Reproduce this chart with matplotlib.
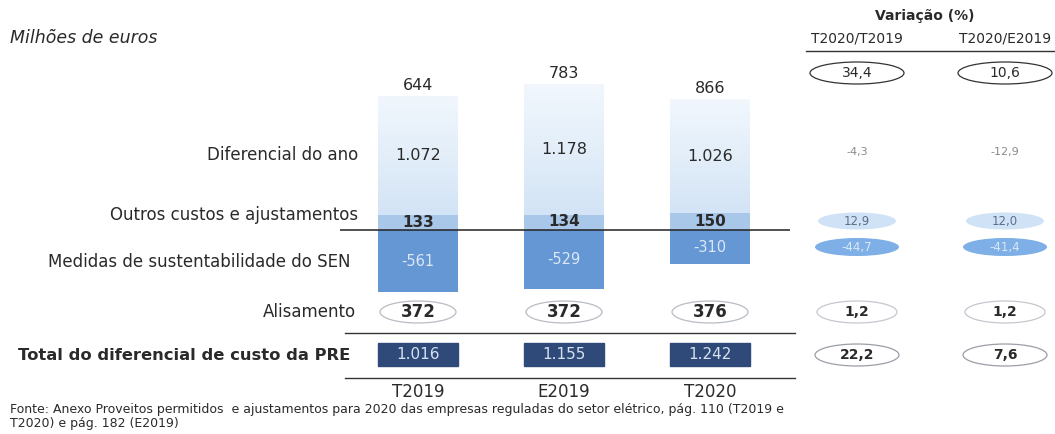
import numpy as np
import matplotlib.pyplot as plt
from matplotlib.patches import Ellipse, Rectangle
from matplotlib.colors import LinearSegmentedColormap
from matplotlib.transforms import blended_transform_factory

# ==============================
# Data (milhões de euros)
# ==============================

periodos = ["T2019", "E2019", "T2020"]
diferencial_ano = [1072, 1178, 1026]
outros_custos = [133, 134, 150]
medidas_sen = [-561, -529, -310]
alisamento = [372, 372, 376]
subtotal = [644, 783, 866]
total_pre = [1016, 1155, 1242]

var_colunas = ["T2020/T2019", "T2020/E2019"]
var_subtotal = ["34,4", "10,6"]
var_diferencial = ["-4,3", "-12,9"]
var_outros = ["12,9", "12,0"]
var_medidas = ["-44,7", "-41,4"]
var_alisamento = ["1,2", "1,2"]
var_total = ["22,2", "7,6"]

linhas = ["Diferencial do ano", "Outros custos e ajustamentos",
          "Medidas de sustentabilidade do SEN", "Alisamento"]


def fmt(v):
    s = f"{abs(v):,}".replace(",", ".")
    return ("-" + s) if v < 0 else s


# ==============================
# Figure setup
# ==============================

W, H = 1055, 434
fig = plt.figure(figsize=(W / 100, H / 100), dpi=100)

# bar axes: zero line at y=230 px, ~9 M EUR per pixel
ymin, ymax = -700, 1400
px_per_unit = 9.0
top_px = 230 - ymax / px_per_unit
bot_px = 230 - ymin / px_per_unit
x0_px, x1_px = 340, 790
xc0, step = 418, 146
ax = fig.add_axes([x0_px / W, 1 - bot_px / H, (x1_px - x0_px) / W, (bot_px - top_px) / H])
ax.axis("off")

# overlay in pixel coordinates for the table parts
ov = fig.add_axes([0, 0, 1, 1])
ov.set_xlim(0, W)
ov.set_ylim(H, 0)
ov.axis("off")
ov.patch.set_alpha(0)

font = "DejaVu Sans"
c_mid = "#a9c7e8"
c_dark = "#6497d4"
c_navy = "#2f4a78"
c_text = "#2a2a2a"
fade = LinearSegmentedColormap.from_list("fade", ["#d3e4f6", "#e3eef9", "#f1f7fd"])

x = list(range(len(periodos)))
bw = 80 / step

# ==============================
# Stacked bars
# ==============================

ax.bar(x, outros_custos, width=bw, color=c_mid, zorder=2)
light = ax.bar(x, diferencial_ano, width=bw, bottom=outros_custos, color="none", zorder=2)
ax.bar(x, medidas_sen, width=bw, color=c_dark, zorder=2)
ax.axhline(0, color="#222222", lw=1.1, zorder=3)

# vertical fade on the "diferencial do ano" segment
grad = np.linspace(0, 1, 100).reshape(-1, 1)
for p in light:
    bx, by = p.get_x(), p.get_y()
    im = ax.imshow(grad, cmap=fade, origin="lower", aspect="auto", zorder=1.5,
                   extent=[bx, bx + p.get_width(), by, by + p.get_height()])
    im.set_clip_path(p)
ax.set_xlim((x0_px - xc0) / step, (x1_px - xc0) / step)
ax.set_ylim(ymin, ymax)

for i in x:
    top = diferencial_ano[i] + outros_custos[i]
    ax.text(i, top + 100, fmt(subtotal[i]), ha="center", va="center",
            fontsize=11.5, family=font, color=c_text)
    ax.text(i, outros_custos[i] + diferencial_ano[i] / 2, fmt(diferencial_ano[i]),
            ha="center", va="center", fontsize=11.5, family=font, color=c_text)
    ax.text(i, outros_custos[i] / 2 + 5, fmt(outros_custos[i]), ha="center", va="center",
            fontsize=11, family=font, color=c_text, fontweight="bold")
    ax.text(i, medidas_sen[i] / 2, fmt(medidas_sen[i]), ha="center", va="center",
            fontsize=10.5, family=font, color="#dce7f6")

# ==============================
# Row labels
# ==============================

tr = blended_transform_factory(ax.transData, ov.transData)
row_y = [155, 215, 262, 312]
row_x = [358, 358, 350, 356]
for lab, yy, xx in zip(linhas, row_y, row_x):
    ov.text(xx, yy, lab, ha="right", va="center", fontsize=12,
            family=font, color=c_text)
ov.text(350, 355, "Total do diferencial de custo da PRE", ha="right", va="center",
        fontsize=11.8, family=font, fontweight="bold", color=c_text)
ov.text(10, 38, "Milhões de euros", ha="left", va="center", fontsize=12.5,
        family=font, style="italic", color=c_text)

# Alisamento and total rows
for i in x:
    ov.add_patch(Ellipse((i, 312), bw * 0.95, 22, transform=tr, fill=False,
                         ec="#b8bcc4", lw=0.9))
    ov.text(i, 312, fmt(alisamento[i]), transform=tr, ha="center", va="center",
            fontsize=12, family=font, color=c_text, fontweight="bold")
    ov.add_patch(Rectangle((i - bw / 2, 343), bw, 23, transform=tr,
                           color=c_navy, zorder=2))
    ov.text(i, 354.5, fmt(total_pre[i]), transform=tr, ha="center", va="center",
            fontsize=11, family=font, color="#d6e2f2", zorder=3)
    ov.text(i, 392, periodos[i], transform=tr, ha="center", va="center",
            fontsize=12, family=font, color=c_text)

ov.plot([345, 795], [333, 333], color="#333333", lw=1.0)
ov.plot([345, 795], [378, 378], color="#333333", lw=1.0)

# ==============================
# Variação (%) columns
# ==============================

col_x = [857, 1005]
ov.text(925, 16, "Variação (%)", ha="center", va="center", fontsize=10,
        family=font, fontweight="bold", color=c_text)
for cx, hdr in zip(col_x, var_colunas):
    ov.text(cx, 38, hdr, ha="center", va="center", fontsize=10,
            family=font, color=c_text)
ov.plot([806, 1055], [51, 51], color="#333333", lw=1.0)

for j, cx in enumerate(col_x):
    ov.add_patch(Ellipse((cx, 73), 94, 22, fill=False, ec="#333333", lw=0.9))
    ov.text(cx, 73, var_subtotal[j], ha="center", va="center", fontsize=10,
            family=font, color=c_text)
    ov.text(cx, 152, var_diferencial[j], ha="center", va="center", fontsize=8,
            family=font, color="#8a8a8a")
    ov.add_patch(Ellipse((cx, 221), 78, 17, color="#cfe2f6", lw=0))
    ov.text(cx, 221, var_outros[j], ha="center", va="center", fontsize=8.5,
            family=font, color="#5a6f8a")
    ov.add_patch(Ellipse((cx, 247), 84, 18, color="#7eafe6", lw=0))
    ov.text(cx, 247, var_medidas[j], ha="center", va="center", fontsize=8.5,
            family=font, color="#dbe8f7")
    ov.add_patch(Ellipse((cx, 312), 80, 22, fill=False, ec="#c4c8ce", lw=0.9))
    ov.text(cx, 312, var_alisamento[j], ha="center", va="center", fontsize=10,
            family=font, color=c_text, fontweight="bold")
    ov.add_patch(Ellipse((cx, 355), 84, 22, fill=False, ec="#9a9ea6", lw=0.9))
    ov.text(cx, 355, var_total[j], ha="center", va="center", fontsize=10,
            family=font, color=c_text, fontweight="bold")

# ==============================
# Source note
# ==============================

ov.text(10, 409, "Fonte: Anexo Proveitos permitidos  e ajustamentos para 2020 das empresas "
        "reguladas do setor elétrico, pág. 110 (T2019 e", ha="left", va="center",
        fontsize=9, family=font, color=c_text)
ov.text(10, 423, "T2020) e pág. 182 (E2019)", ha="left", va="center",
        fontsize=9, family=font, color=c_text)

fig.savefig("out.png", dpi=100)
